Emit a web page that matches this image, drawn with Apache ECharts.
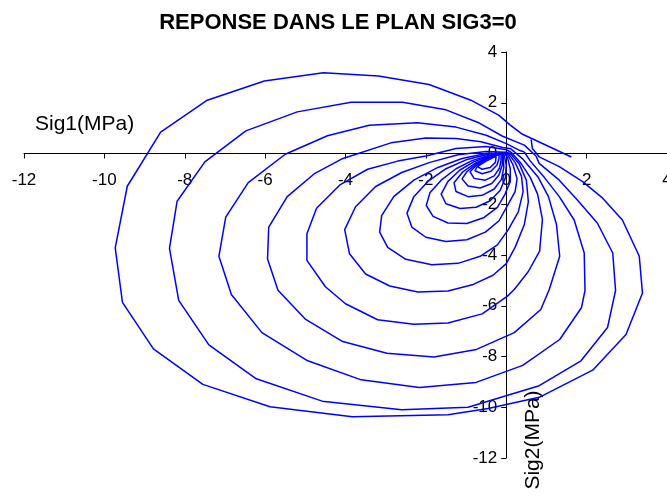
<!DOCTYPE html>
<html>
<head>
<meta charset="utf-8">
<script src="https://cdn.jsdelivr.net/npm/echarts@6/dist/echarts.min.js"></script>
<style>html,body{margin:0;padding:0;background:#fff;}#c{width:667px;height:497px;}</style>
</head>
<body>
<div id="c"></div>
<script>
var titleText = 'REPONSE DANS LE PLAN SIG3=0';
var xName = 'Sig1(MPa)';
var yName = 'Sig2(MPa)';
var axisMin = -12, axisMax = 4, axisStep = 2;

var loop1 = [[0.62,0.55],[0.65,0.2],[0.82,-0.13],[1.32,-0.52],[1.9,-1.11],[2.4,-1.76],[2.89,-2.62],[3.31,-4.05],[3.39,-5.5],[2.98,-7.13],[2.15,-8.54],[0.82,-9.61],[-0.45,-10.05],[-1.45,-10.3],[-3.83,-10.37],[-5.88,-9.98],[-7.55,-9.1],[-8.78,-7.7],[-9.55,-5.87],[-9.73,-3.72],[-9.43,-1.29],[-8.6,0.84],[-7.44,2.1],[-6.02,2.86],[-4.55,3.18],[-3.18,3.05],[-1.92,2.72],[-0.88,2.1],[-0.18,1.5],[0.1,1.12],[0.38,0.78],[1.62,-0.14]];
var loop2 = [[0.74,-0.1],[0.82,-0.39],[1.32,-1.05],[1.77,-1.83],[2.27,-2.75],[2.65,-3.92],[2.72,-5.4],[2.52,-6.86],[1.86,-8.17],[0.82,-9.15],[-0.95,-10.0],[-2.6,-10.1],[-4.58,-9.76],[-6.22,-8.88],[-7.4,-7.54],[-8.15,-5.79],[-8.38,-3.74],[-8.19,-1.88],[-7.5,-0.33],[-6.48,0.89],[-5.2,1.64],[-3.86,2.02],[-2.58,2.02],[-1.5,1.72],[-0.67,1.2],[-0.09,0.68],[0.45,0.33],[0.74,-0.1]];
var loop3 = [[0.45,0.06],[0.6,-0.3],[0.95,-0.95],[1.32,-1.7],[1.69,-2.62],[1.94,-3.92],[1.96,-5.4],[1.87,-6.08],[1.33,-7.33],[0.41,-8.35],[-0.75,-9.02],[-2.16,-9.22],[-3.61,-8.92],[-4.94,-8.17],[-6.08,-7.06],[-6.84,-5.56],[-7.15,-4.05],[-6.98,-2.51],[-6.42,-1.15],[-5.5,-0.03],[-4.45,0.7],[-3.41,1.11],[-2.21,1.21],[-1.25,1.04],[-0.5,0.72],[0,0.39],[0.32,0.13],[0.45,0.06]];
var loop4 = [[0.1,0.2],[0.4,-0.2],[0.8,-0.95],[1.05,-1.7],[1.25,-2.8],[1.33,-4.05],[1.07,-5.36],[0.86,-6.15],[0.2,-7.06],[-0.74,-7.72],[-1.8,-8.02],[-2.97,-7.87],[-4.07,-7.41],[-4.99,-6.54],[-5.68,-5.39],[-5.94,-4.16],[-5.91,-2.9],[-5.45,-1.7],[-4.76,-0.78],[-4.1,-0.22],[-2.87,0.42],[-2.0,0.61],[-1.25,0.59],[-0.63,0.46],[-0.09,0.24],[0.1,0.2]];
var loop5 = [[0.12,0.05],[0.35,-0.35],[0.6,-0.95],[0.78,-1.6],[0.9,-2.6],[0.83,-3.85],[0.55,-4.65],[0.2,-5.36],[0.03,-5.62],[-0.6,-6.32],[-1.45,-6.68],[-2.3,-6.73],[-3.2,-6.55],[-4.0,-5.92],[-4.5,-5.25],[-4.96,-4.21],[-4.96,-3.16],[-4.72,-2.16],[-4.14,-1.24],[-3.45,-0.62],[-2.7,-0.3],[-2.0,-0.1],[-1.25,0.2],[-0.5,0.28],[0,0.15],[0.12,0.05]];
var loop6 = [[0,0.05],[-0.5,0.08],[-1.2,-0.05],[-1.9,-0.35],[-2.6,-0.75],[-3.25,-1.3],[-3.75,-2.1],[-4.02,-3.0],[-3.9,-3.95],[-3.5,-4.75],[-2.9,-5.22],[-2.2,-5.46],[-1.45,-5.42],[-0.82,-5.16],[-0.33,-4.8],[0.0,-4.34],[0.22,-3.7],[0.45,-2.8],[0.55,-1.9],[0.5,-1.05],[0.32,-0.4],[0.1,0.0],[0,0.05]];
var loop7 = [[0,0.03],[-0.5,0.0],[-1.1,-0.2],[-1.7,-0.55],[-2.3,-1.05],[-2.8,-1.7],[-3.1,-2.45],[-3.15,-3.1],[-2.95,-3.7],[-2.5,-4.17],[-1.85,-4.38],[-1.2,-4.33],[-0.65,-4.05],[-0.22,-3.6],[0.05,-3.0],[0.3,-2.3],[0.42,-1.5],[0.38,-0.9],[0.22,-0.35],[0.05,0.0],[0,0.03]];
var loop8 = [[-0.02,0.02],[-0.5,-0.05],[-1.0,-0.25],[-1.5,-0.6],[-1.95,-1.1],[-2.3,-1.7],[-2.47,-2.35],[-2.35,-2.9],[-2.0,-3.3],[-1.5,-3.47],[-0.98,-3.4],[-0.52,-3.1],[-0.18,-2.65],[0.03,-2.05],[0.22,-1.5],[0.27,-1.0],[0.17,-0.45],[0.02,0.0],[-0.02,0.02]];
var loop9 = [[-0.04,0.01],[-0.45,-0.08],[-0.85,-0.28],[-1.25,-0.6],[-1.62,-1.05],[-1.9,-1.55],[-1.99,-2.05],[-1.82,-2.48],[-1.45,-2.74],[-0.98,-2.76],[-0.55,-2.52],[-0.22,-2.12],[-0.03,-1.6],[0.1,-1.1],[0.1,-0.6],[0.03,-0.15],[-0.04,0.01]];
var loop10 = [[-0.06,0.0],[-0.42,-0.1],[-0.8,-0.32],[-1.15,-0.65],[-1.45,-1.1],[-1.62,-1.6],[-1.5,-1.98],[-1.15,-2.17],[-0.75,-2.12],[-0.4,-1.86],[-0.15,-1.45],[-0.02,-0.95],[0.0,-0.45],[-0.06,0.0]];
var loop11 = [[-0.08,0.0],[-0.4,-0.12],[-0.75,-0.36],[-1.08,-0.72],[-1.3,-1.15],[-1.25,-1.5],[-0.95,-1.7],[-0.6,-1.65],[-0.3,-1.4],[-0.12,-1.02],[-0.06,-0.55],[-0.08,0.0]];
var loop12 = [[-0.1,0.0],[-0.4,-0.13],[-0.72,-0.38],[-0.98,-0.72],[-1.1,-1.0],[-0.95,-1.28],[-0.65,-1.36],[-0.36,-1.18],[-0.18,-0.85],[-0.1,-0.45],[-0.1,0.0]];
var loop13 = [[-0.13,-0.01],[-0.42,-0.15],[-0.7,-0.4],[-0.9,-0.72],[-0.8,-0.98],[-0.52,-1.05],[-0.3,-0.88],[-0.17,-0.58],[-0.13,-0.28],[-0.13,-0.01]];
var loop14 = [[-0.18,-0.03],[-0.45,-0.2],[-0.7,-0.45],[-0.78,-0.68],[-0.6,-0.8],[-0.38,-0.7],[-0.23,-0.45],[-0.18,-0.2],[-0.18,-0.03]];
var loop15 = [[-0.25,-0.1],[-0.5,-0.3],[-0.72,-0.52],[-0.6,-0.62],[-0.4,-0.55],[-0.27,-0.35],[-0.25,-0.1]];

var loops = [loop1,loop2,loop3,loop4,loop5,loop6,loop7,loop8,loop9,loop10,loop11,loop12,loop13,loop14,loop15];

var FONT = '"Liberation Sans", Arial, sans-serif';
var G = {left:24, top:52, width:643, height:406};
// place the axes so they cross at the origin (labels follow the axis lines)
var xOff = -G.height * (0 - axisMin) / (axisMax - axisMin);
var yOff = -G.width * (0 - axisMin) / (axisMax - axisMin);

var chart = echarts.init(document.getElementById('c'), null, {renderer:'canvas'});
var series = loops.map(function(d){
  return {type:'line', data:d, showSymbol:false, symbol:'none', smooth:false, silent:true,
    lineStyle:{color:'#0000ff', width:1.5}, animation:false, clip:false};
});
chart.setOption({
  animation:false,
  backgroundColor:'#ffffff',
  grid:{left:G.left, top:G.top, width:G.width, height:G.height, containLabel:false, outerBoundsMode:'none'},
  xAxis:{type:'value', min:axisMin, max:axisMax, interval:axisStep, position:'bottom', offset:xOff,
    axisLine:{onZero:false, lineStyle:{color:'#000', width:1}},
    axisTick:{show:true, inside:false, length:5, lineStyle:{color:'#000'}},
    axisLabel:{color:'#000', fontFamily:FONT, fontSize:17, margin:18, hideOverlap:false},
    splitLine:{show:false}},
  yAxis:{type:'value', min:axisMin, max:axisMax, interval:axisStep, position:'left', offset:yOff,
    axisLine:{onZero:false, lineStyle:{color:'#000', width:1}},
    axisTick:{show:true, inside:false, length:5, lineStyle:{color:'#000'}},
    axisLabel:{color:'#000', fontFamily:FONT, fontSize:17, margin:9, hideOverlap:false},
    splitLine:{show:false}},
  graphic:[
    {type:'text', x:338, y:23, style:{text:titleText, font:'bold 22px "Liberation Sans", Arial, sans-serif', fill:'#000', textAlign:'center', textVerticalAlign:'middle'}},
    {type:'text', x:35, y:124, style:{text:xName, font:'21px "Liberation Sans", Arial, sans-serif', fill:'#000', textAlign:'left', textVerticalAlign:'middle'}},
    {type:'text', x:533, y:440, rotation:Math.PI/2, style:{text:yName, font:'21px "Liberation Sans", Arial, sans-serif', fill:'#000', textAlign:'center', textVerticalAlign:'middle'}}
  ],
  series:series
});
</script>
</body>
</html>
